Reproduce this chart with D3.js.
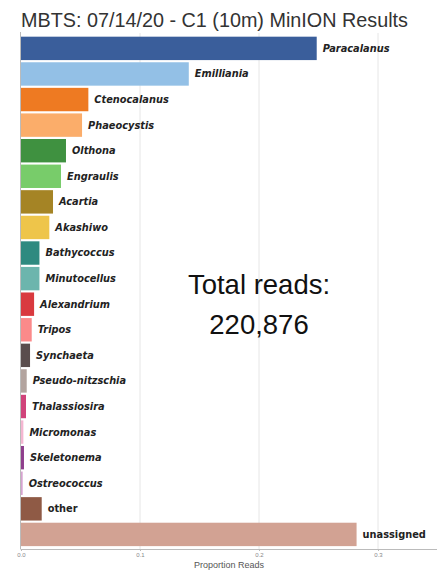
<!DOCTYPE html>
<html><head><meta charset="utf-8">
<script src="https://cdn.jsdelivr.net/npm/d3@7"></script>
<style>body{margin:0;background:#fff}svg{display:block}</style>
</head><body>
<svg id="chart" width="438" height="574"></svg>
<script>
const categories = ["Paracalanus","Emilliania","Ctenocalanus","Phaeocystis","Olthona","Engraulis","Acartia","Akashiwo","Bathycoccus","Minutocellus","Alexandrium","Tripos","Synchaeta","Pseudo-nitzschia","Thalassiosira","Micromonas","Skeletonema","Ostreococcus","other","unassigned"];
const values = [0.2485,0.141,0.0566,0.0513,0.0378,0.0336,0.0269,0.0238,0.0155,0.0155,0.011,0.009,0.0076,0.0048,0.0042,0.002,0.0025,0.0014,0.0174,0.282];
const colors = ["#3a5e9b","#93c0e6","#ee7a22","#fbad6a","#3f9140","#78cc6a","#a58425","#eec54a","#2f8a80","#6cb5ad","#d93a3f","#fb8a8a","#5a4d4d","#b3a49f","#d0437a","#f4b6d1","#8f3f8c","#d6a3d0","#8f5a45","#d2a293"];
const xTicks = [0, 0.1, 0.2, 0.3];
const titleText = "MBTS: 07/14/20 - C1 (10m) MinION Results";
const totalLines = ["Total reads:", "220,876"];
const xTitle = "Proportion Reads";

const svg = d3.select("#chart");
const x = d3.scaleLinear().domain([0, 0.3]).range([21, 378]);
const y = d3.scaleBand().domain(categories).range([35.4, 547.4]).paddingInner(0.085).paddingOuter(0.05);

// gridlines
svg.append("g").selectAll("line").data(xTicks.slice(1)).join("line")
  .attr("x1", d => x(d)).attr("x2", d => x(d))
  .attr("y1", 33).attr("y2", 549)
  .attr("stroke", "#e6e6e6").attr("stroke-width", 1);

// bars
svg.append("g").selectAll("rect").data(categories).join("rect")
  .attr("x", x(0)).attr("y", d => y(d))
  .attr("width", (d, i) => x(values[i]) - x(0))
  .attr("height", y.bandwidth())
  .attr("fill", (d, i) => colors[i]);

// labels
svg.append("g").selectAll("text").data(categories).join("text")
  .attr("x", (d, i) => x(values[i]) + 6)
  .attr("y", d => y(d) + y.bandwidth() / 2)
  .attr("dy", "0.35em")
  .attr("font-family", "DejaVu Sans, sans-serif")
  .attr("font-weight", "bold")
  .attr("font-style", d => (d === "other" || d === "unassigned") ? "normal" : "italic")
  .attr("font-size", "9.8px")
  .attr("fill", "#222")
  .text(d => d);

// left axis line
svg.append("line").attr("x1", 20.5).attr("x2", 20.5).attr("y1", 32).attr("y2", 549)
  .attr("stroke", "#bbb").attr("stroke-width", 1);

// bottom axis
const xAxis = d3.axisBottom(x).tickValues(xTicks).tickFormat(d3.format(".1f")).tickSize(2).tickPadding(2);
const ax = svg.append("g").attr("transform", "translate(0,549)").call(xAxis);
ax.select(".domain").attr("stroke", "#bbb").attr("d", "M20.5,0.5H437");
ax.selectAll(".tick line").attr("stroke", "#bbb");
ax.selectAll(".tick text").attr("fill", "#888").attr("font-size", "6px").attr("font-family", "Liberation Sans, Arial, sans-serif");

svg.append("text").attr("x", 229).attr("y", 568).attr("text-anchor", "middle")
  .attr("font-family", "Liberation Sans, Arial, sans-serif").attr("font-size", "9px").attr("fill", "#555")
  .text(xTitle);

// title
svg.append("text").attr("x", 21).attr("y", 26.5)
  .attr("font-family", "Liberation Sans, Arial, sans-serif").attr("font-size", "19.8px").attr("fill", "#333")
  .text(titleText);

// total reads
svg.append("g").selectAll("text").data(totalLines).join("text")
  .attr("x", 259).attr("y", (d, i) => 293.5 + i * 40.5)
  .attr("text-anchor", "middle")
  .attr("font-family", "Liberation Sans, Arial, sans-serif").attr("font-size", "27.5px").attr("fill", "#111")
  .text(d => d);
</script>
</body></html>
